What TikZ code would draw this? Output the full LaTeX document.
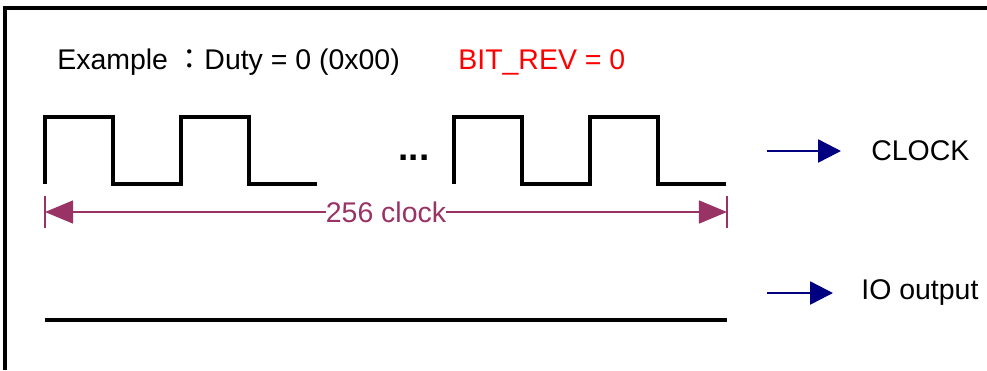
\documentclass[tikz,border=0pt]{standalone}
\usepackage{fontspec}
\setmainfont{Liberation Sans}
\newfontfamily\cjk{Noto Sans CJK TC}
\usetikzlibrary{positioning, arrows.meta}
\definecolor{clkplum}{HTML}{993366}
\definecolor{clknavy}{HTML}{000080}
\definecolor{clkred}{HTML}{FF0000}

\begin{document}
\begin{tikzpicture}[x=0.02cm, y=-0.02cm,
  wave/.style={line width=1.8pt, line join=miter},
  txt/.style={inner sep=0pt, font=\fontsize{16.2}{19}\selectfont},
  dimline/.style={color=clkplum, line width=1.3pt},
  sigarrow/.style={color=clknavy, line width=1.4pt, -{Triangle[length=13pt, width=13pt]}}]
  \useasboundingbox (0,0) rectangle (987,370);
  % frame
  \draw[line width=1.8pt] (987,8) -| (5,370);
  % header
  \node[txt, anchor=base west] (title) at (57,69) {Example {\cjk ：}Duty = 0 (0x00)};
  \node[txt, anchor=base west, text=clkred] (rev) at (458,69) {BIT\_REV = 0};
  % clock
  \foreach \s in {45,454}
    \draw[wave] (\s,184) -- ++(0,-67) -- ++(68,0) -- ++(0,67) -- ++(68,0) -- ++(0,-67) -- ++(68,0) -- ++(0,67) -- ++(68,0);
  \node[txt, anchor=base, font=\fontsize{21}{24}\selectfont\bfseries] (dots) at (414,160) {...};
  % 256 clock span
  \coordinate (dimL) at (45,212);
  \coordinate (dimR) at (727,212);
  \draw[dimline] (45,196) -- (45,228);
  \draw[dimline] (727,196) -- (727,228);
  \draw[dimline, {Triangle[length=16pt, width=13pt]}-{Triangle[length=16pt, width=13pt]}] (dimL) -- node[txt, fill=white, text=clkplum] (span) {256 clock} (dimR);
  % signal labels
  \coordinate (clkTail) at (767,151);
  \coordinate (clkTip) at (841,151);
  \draw[sigarrow] (clkTail) -- (clkTip);
  \node[txt, right=0.6cm of clkTip] (clk) {CLOCK};
  \coordinate (ioTail) at (767,293);
  \coordinate (ioTip) at (833,293);
  \draw[sigarrow] (ioTail) -- (ioTip);
  \node[txt, right=0.56cm of ioTip] (io) {IO output};
  % io level
  \draw[wave] (45,320) -- (727,320);
\end{tikzpicture}
\end{document}
